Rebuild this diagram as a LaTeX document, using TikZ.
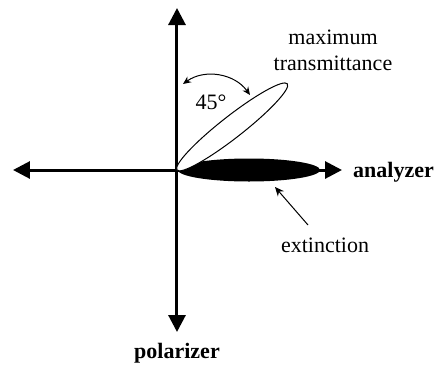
\documentclass[tikz,border=0pt]{standalone}
\usepackage{fontspec}
\setmainfont{Liberation Serif}
\usetikzlibrary{arrows.meta}

\begin{document}
\begin{tikzpicture}[
    x=1pt, y=1pt,
    axis/.style={line width=3pt, {Triangle[length=17pt,width=17pt]}-{Triangle[length=17pt,width=17pt]}},
    lobe/.style={line width=1pt},
    pointer/.style={line width=1pt, -{Stealth[length=9pt,width=8pt]}},
    angle/.style={line width=1pt, {Stealth[length=8pt,width=7pt]}-{Stealth[length=8pt,width=7pt]}},
    label/.style={font=\fontsize{22}{26}\selectfont, inner sep=0pt},
    axlabel/.style={label, font=\fontsize{22}{26}\selectfont\bfseries}
]
  \useasboundingbox (-177,-195) rectangle (260,170);

  \coordinate (o) at (0,0);
  \coordinate (left) at (-164,0);
  \coordinate (right) at (165,0);
  \coordinate (top) at (0,162);
  \coordinate (bottom) at (0,-162);

  \draw[axis] (left) -- (right);
  \draw[axis] (bottom) -- (top);

  % extinction and transmittance lobes
  \fill (72,0) ellipse [x radius=71, y radius=11.5];
  \draw[lobe, fill=white, rotate=38] (70,0) ellipse [x radius=70, y radius=11];

  \coordinate (a1) at (6,86);
  \coordinate (a2) at (73,75);
  \draw[angle] (a2) to[bend right=45] (a1);
  \node[label] (deg) at (34,68) {45°};

  \node[label, align=center] (maxt) at (156,120) {maximum\\transmittance};
  \node[axlabel, anchor=west] (ana) at (176,-2) {analyzer};
  \node[axlabel] (pol) at (0,-183) {polarizer};
  \node[label] (ext) at (148,-75) {extinction};

  \coordinate (tail) at (131,-55);
  \coordinate (head) at (98,-17);
  \draw[pointer] (tail) -- (head);
\end{tikzpicture}
\end{document}
